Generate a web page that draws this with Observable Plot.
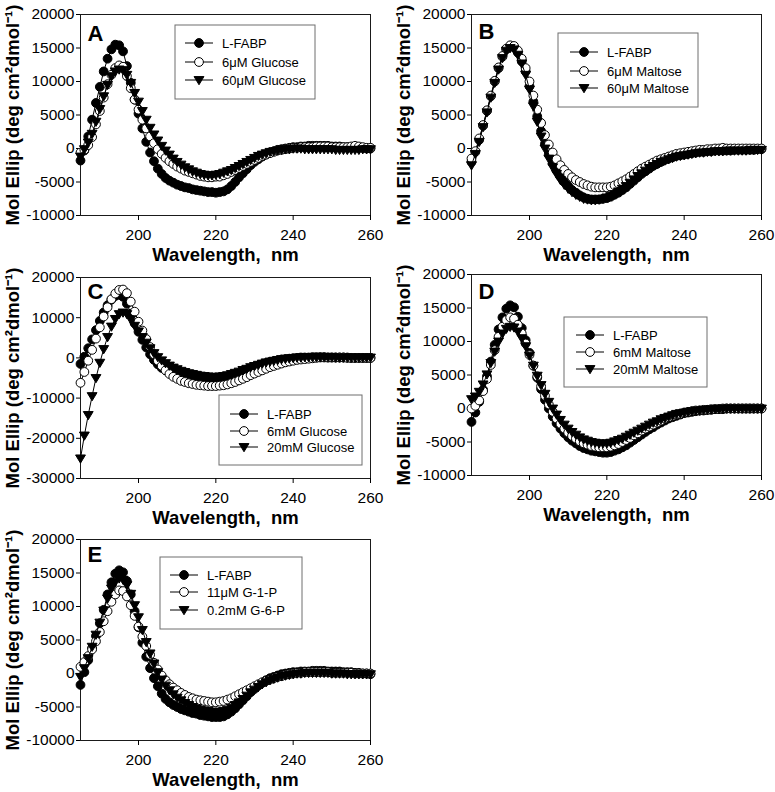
<!DOCTYPE html>
<html><head><meta charset="utf-8">
<script src="https://cdn.jsdelivr.net/npm/d3@7"></script>
<script src="https://cdn.jsdelivr.net/npm/@observablehq/plot@0.6"></script>
<style>
body{margin:0;background:#fff;}
#chart{position:relative;width:775px;height:792px;font-family:"Liberation Sans",Arial,sans-serif;}
#chart svg{position:absolute;overflow:visible;}
</style></head><body><div id="chart"></div>
<script>
// ---- data ----
const wavelength = [185,186,187,188,189,190,191,192,193,194,195,196,197,198,199,200,201,202,203,204,205,206,207,208,209,210,211,212,213,214,215,216,217,218,219,220,221,222,223,224,225,226,227,228,229,230,231,232,233,234,235,236,237,238,239,240,241,242,243,244,245,246,247,248,249,250,251,252,253,254,255,256,257,258,259,260];
const xTicks = [200, 220, 240, 260];
const yTicksMain = [-10000, -5000, 0, 5000, 10000, 15000, 20000];
const yTicksC = [-30000, -20000, -10000, 0, 10000, 20000];
const yLabel = "Mol Ellip (deg cm\u00b2dmol\u207b\u00b9)";
const xLabel = "Wavelength,  nm";
const panelIds = ["A", "B", "C", "D", "E"];

const labelsA = ["L-FABP", "6\u03bcM Glucose", "60\u03bcM Glucose"];
const labelsB = ["L-FABP", "6\u03bcM Maltose", "60\u03bcM Maltose"];
const labelsC = ["L-FABP", "6mM Glucose", "20mM Glucose"];
const labelsD = ["L-FABP", "6mM Maltose", "20mM Maltose"];
const labelsE = ["L-FABP", "11\u03bcM G-1-P", "0.2mM G-6-P"];

const A_LFABP = [-1800,-300,1800,4300,6800,9200,11500,13400,14800,15500,
 15400,14500,12300,9800,7300,5200,3000,1000,-600,-1900,
 -3000,-3800,-4400,-4800,-5100,-5400,-5600,-5800,-5900,-6100,
 -6200,-6300,-6400,-6500,-6500,-6600,-6500,-6400,-6100,-5600,
 -5000,-4300,-3700,-3100,-2500,-2000,-1600,-1200,-900,-600,
 -400,-200,-100,0,100,200,200,300,300,400,
 400,400,400,400,400,300,300,300,200,200,
 200,200,100,100,0,0];
const A_6uM = [-600,-200,500,1700,3600,5600,7600,9600,11000,12000,
 12400,12200,10800,9000,7300,5800,4300,3000,1800,800,
 -100,-800,-1400,-1900,-2300,-2700,-3000,-3300,-3500,-3700,
 -3900,-4100,-4200,-4300,-4300,-4200,-4200,-4000,-3800,-3500,
 -3200,-2900,-2600,-2300,-2000,-1700,-1400,-1100,-900,-700,
 -500,-300,-200,-100,0,100,100,200,200,200,
 200,300,300,300,300,200,200,200,200,200,
 300,400,300,200,100,100];
const A_60uM = [-1200,-100,900,2200,4000,5900,7800,9500,10800,11500,
 11800,11700,11000,9800,8300,7000,5600,4300,3100,2100,
 1200,400,-300,-900,-1500,-2000,-2400,-2800,-3100,-3400,
 -3600,-3800,-3900,-4000,-4000,-3900,-3800,-3600,-3400,-3200,
 -2900,-2600,-2300,-2000,-1700,-1400,-1100,-900,-700,-500,
 -400,-300,-200,-100,-100,0,0,0,-100,-100,
 -100,-100,-100,-100,-100,-100,-200,-200,-200,-200,
 -200,-200,-200,-100,-100,-100];

const B_LFABP = [-2000,-500,1300,3400,5600,7800,10000,12000,13700,14800,
 15300,15100,14300,13000,11500,9300,7000,4800,2600,700,
 -900,-2200,-3300,-4200,-5000,-5600,-6200,-6600,-7000,-7300,
 -7500,-7600,-7600,-7600,-7500,-7400,-7200,-6900,-6600,-6200,
 -5800,-5300,-4800,-4300,-3800,-3400,-3000,-2600,-2300,-2000,
 -1700,-1500,-1300,-1100,-1000,-900,-800,-700,-600,-500,
 -500,-400,-400,-300,-300,-300,-300,-300,-200,-200,
 -200,-200,-200,-200,-100,-100];
const B_6uM = [-1500,-400,1500,3500,5700,7900,10100,12100,13800,14900,
 15400,15300,14600,13400,12000,10000,7900,5800,3800,2000,
 600,-600,-1600,-2500,-3200,-3800,-4300,-4700,-5000,-5300,
 -5500,-5700,-5800,-5800,-5800,-5800,-5700,-5500,-5200,-4900,
 -4600,-4200,-3800,-3400,-3000,-2700,-2400,-2100,-1800,-1600,
 -1400,-1200,-1000,-800,-700,-600,-500,-400,-300,-200,
 -200,-100,-100,0,0,100,0,0,0,0,
 0,0,0,0,0,0];
const B_60uM = [-2500,-800,1000,3200,5400,7600,9800,11800,13500,14600,
 15000,14800,14000,12700,11000,8800,6300,4000,1800,0,
 -1500,-2800,-3800,-4700,-5400,-6000,-6500,-6900,-7200,-7500,
 -7600,-7700,-7700,-7600,-7500,-7300,-7100,-6800,-6400,-6000,
 -5600,-5100,-4600,-4100,-3700,-3300,-2900,-2600,-2300,-2000,
 -1800,-1600,-1400,-1200,-1100,-1000,-900,-800,-700,-600,
 -600,-500,-500,-400,-400,-400,-300,-300,-300,-300,
 -300,-300,-200,-200,-200,-200];

const C_LFABP = [-1500,300,2400,4600,6900,9200,11300,13100,14500,15400,
 15700,15200,13500,11000,8600,6500,4500,2600,900,-500,
 -1600,-2500,-3100,-3600,-4000,-4300,-4600,-4800,-5000,-5100,
 -5200,-5300,-5400,-5400,-5400,-5300,-5200,-5000,-4800,-4500,
 -4200,-3800,-3400,-3000,-2600,-2200,-1900,-1600,-1300,-1000,
 -800,-600,-400,-300,-200,-100,0,100,100,100,
 200,200,200,200,100,100,100,100,100,100,
 0,0,0,0,0,0];
const C_6mM = [-6200,-3500,-700,2000,4800,7600,10300,12600,14600,16000,
 16900,17000,16100,14000,11500,9000,6800,4700,2700,900,
 -700,-2000,-3100,-4000,-4700,-5200,-5700,-6000,-6300,-6500,
 -6700,-6800,-6900,-7000,-7000,-7000,-6900,-6800,-6600,-6300,
 -6000,-5600,-5200,-4800,-4300,-3900,-3500,-3100,-2700,-2300,
 -2000,-1700,-1400,-1100,-900,-700,-500,-400,-300,-200,
 -100,0,100,100,100,100,100,100,100,0,
 0,0,0,0,0,0];
const C_20mM = [-25000,-19300,-14200,-9500,-5000,-1200,2200,5200,7800,9700,
 10900,11300,10900,9600,8000,6600,5200,3800,2400,1200,
 200,-600,-1300,-1900,-2400,-2800,-3200,-3500,-3800,-4000,
 -4200,-4400,-4500,-4600,-4700,-4700,-4600,-4500,-4300,-4000,
 -3700,-3400,-3000,-2700,-2300,-2000,-1700,-1400,-1100,-900,
 -700,-500,-300,-200,-100,0,100,100,200,200,
 200,200,200,200,200,200,100,100,100,100,
 100,100,100,100,100,100];

const D_LFABP = [-2000,-600,1000,2800,4800,7000,9500,11800,13600,14900,
 15400,15100,13700,12000,10200,8300,6400,4600,2900,1300,
 0,-1200,-2200,-3000,-3700,-4300,-4800,-5200,-5600,-5900,
 -6100,-6300,-6400,-6500,-6600,-6600,-6500,-6300,-6100,-5800,
 -5500,-5100,-4700,-4300,-3900,-3500,-3100,-2800,-2400,-2100,
 -1800,-1500,-1300,-1100,-900,-700,-600,-500,-400,-300,
 -300,-200,-200,-100,-100,-100,0,0,0,0,
 0,0,0,0,0,0];
const D_6mM = [0,400,1200,2600,4400,6500,8700,10700,12200,13200,
 13600,13400,12500,11200,9700,8000,6400,4800,3300,1900,
 600,-500,-1500,-2300,-3000,-3600,-4100,-4500,-4900,-5200,
 -5400,-5600,-5700,-5800,-5800,-5800,-5700,-5500,-5300,-5000,
 -4700,-4400,-4000,-3700,-3300,-3000,-2700,-2400,-2100,-1800,
 -1500,-1300,-1100,-900,-800,-600,-500,-400,-300,-300,
 -200,-200,-100,-100,-100,0,0,0,0,0,
 0,0,0,0,0,0];
const D_20mM = [1400,1800,2500,3600,5100,6800,8500,10000,11200,11900,
 12200,12100,11500,10500,9300,7900,6400,4900,3500,2200,
 1000,0,-900,-1700,-2400,-3000,-3500,-3900,-4300,-4600,
 -4800,-5000,-5100,-5200,-5200,-5200,-5100,-4900,-4700,-4500,
 -4200,-3900,-3600,-3300,-3000,-2700,-2400,-2100,-1900,-1600,
 -1400,-1200,-1000,-800,-700,-600,-500,-400,-300,-300,
 -200,-200,-100,-100,-100,0,0,0,0,0,
 0,0,0,0,0,0];

const E_LFABP = [-1700,200,2000,3800,5600,7500,9500,11800,13600,14900,
 15400,15100,13800,11800,9300,6900,4600,2500,800,-700,
 -1900,-3000,-3800,-4300,-4700,-5000,-5300,-5500,-5700,-5900,
 -6000,-6200,-6300,-6400,-6500,-6500,-6500,-6400,-6100,-5700,
 -5200,-4600,-4000,-3400,-2800,-2300,-1800,-1400,-1000,-700,
 -500,-300,-100,0,100,200,200,300,300,300,
 400,400,400,400,300,300,300,300,200,200,
 200,100,100,0,0,-100];
const E_G1P = [1000,1700,2600,3600,4800,6200,7800,9300,10700,11800,
 12400,12300,11500,10200,8600,7000,5500,4100,2800,1600,
 600,-300,-1000,-1600,-2100,-2500,-2900,-3200,-3500,-3700,
 -3900,-4000,-4100,-4200,-4300,-4300,-4200,-4100,-3900,-3700,
 -3400,-3100,-2800,-2500,-2200,-1900,-1600,-1300,-1100,-900,
 -700,-500,-400,-200,-100,0,100,100,200,200,
 200,200,200,200,200,100,100,100,100,100,
 100,0,0,0,0,0];
const E_G6P = [-500,800,2300,4000,5800,7600,9400,11200,12700,13700,
 14200,14000,13200,11900,10200,8400,6500,4700,3000,1500,
 200,-900,-1800,-2500,-3100,-3600,-4000,-4400,-4700,-5000,
 -5200,-5400,-5500,-5600,-5700,-5700,-5700,-5600,-5400,-5100,
 -4700,-4300,-3800,-3300,-2800,-2400,-2000,-1600,-1300,-1000,
 -800,-600,-400,-300,-200,-100,0,0,100,100,
 100,100,100,100,100,0,0,0,0,-100,
 -100,-100,-100,-100,-100,-100];

// ---- layout (pixels) ----
const layout = [
  {left:0,   top:0,   letterDy:11, box:[175,25,140,74],  rows:[18,37,55], lineX:10},
  {left:391, top:0,   letterDy:9,  box:[167,33,140,74],  rows:[19,38,55], lineX:12},
  {left:0,   top:263, letterDy:6,  box:[219,132,143,70], rows:[19,36,52], lineX:11},
  {left:391, top:260, letterDy:9,  box:[173,57,143,70],  rows:[18,35,52], lineX:12},
  {left:0,   top:525, letterDy:7,  box:[160,32,142,72],  rows:[18,35,53], lineX:10}
];
const seriesSets = [
  [A_LFABP, A_6uM, A_60uM], [B_LFABP, B_6uM, B_60uM], [C_LFABP, C_6mM, C_20mM],
  [D_LFABP, D_6mM, D_20mM], [E_LFABP, E_G1P, E_G6P]
];
const labelSets = [labelsA, labelsB, labelsC, labelsD, labelsE];
const yDomains = [[-10000,20000],[-10000,20000],[-30000,20000],[-10000,20000],[-10000,20000]];
const yTickSets = [yTicksMain, yTicksMain, yTicksC, yTicksMain, yTicksMain];

const triDown = {
  draw(ctx, size) {
    const r = Math.sqrt(size / Math.PI);
    ctx.moveTo(-r * 1.12, -r * 0.78);
    ctx.lineTo(r * 1.12, -r * 0.78);
    ctx.lineTo(0, r * 1.08);
    ctx.closePath();
  }
};
const styles = [
  {fill: "black", symbol: "circle"},
  {fill: "white", symbol: "circle"},
  {fill: "black", symbol: triDown}
];
const R = 4.4;
const chart = document.getElementById("chart");
const fmt = d => String(d);

panelIds.forEach((id, pi) => {
  const L = layout[pi];
  const marks = [
    Plot.frame({stroke: "#1a1a1a", strokeWidth: 1}),
    Plot.axisX({ticks: xTicks, tickSize: 5, tickPadding: 8, label: null, tickFormat: fmt}),
    Plot.axisY({ticks: yTickSets[pi], tickSize: 4, tickPadding: 2, label: null, tickFormat: fmt})
  ];
  seriesSets[pi].forEach((arr, si) => {
    const data = wavelength.map((w, i) => ({w, v: arr[i]}));
    marks.push(Plot.line(data, {x: "w", y: "v", stroke: "black", strokeWidth: 1}));
    marks.push(Plot.dot(data, {x: "w", y: "v", r: R, fill: styles[si].fill, stroke: "black", strokeWidth: 1, symbol: styles[si].symbol}));
  });
  marks.push(Plot.text([yLabel], {text: d => d, frameAnchor: "left", dx: -67, rotate: -90, textAnchor: "middle", lineAnchor: "middle", fontSize: 18.5, fontWeight: "bold"}));
  marks.push(Plot.text([xLabel], {text: d => d, frameAnchor: "bottom", dy: 40, textAnchor: "middle", lineAnchor: "middle", fontSize: 18.5, fontWeight: "bold"}));
  marks.push(Plot.text([id], {text: d => d, frameAnchor: "top-left", dx: 7, dy: L.letterDy, textAnchor: "start", lineAnchor: "top", fontSize: 22, fontWeight: "bold"}));

  const svg = Plot.plot({
    width: 384, height: 265, marginLeft: 80, marginRight: 14, marginTop: 14, marginBottom: 50,
    style: {background: "transparent", fontFamily: "'Liberation Sans', Arial, sans-serif", fontSize: "15.5px", color: "#000", overflow: "visible"},
    x: {domain: [185, 260]},
    y: {domain: yDomains[pi]},
    marks
  });
  svg.style.left = L.left + "px";
  svg.style.top = L.top + "px";
  chart.appendChild(svg);

  // legend
  const [bx, by, bw, bh] = L.box;
  const g = d3.select(svg).append("g").attr("transform", `translate(${bx},${by})`);
  g.append("rect").attr("width", bw).attr("height", bh).attr("fill", "white").attr("stroke", "#6e6e6e").attr("stroke-width", 1);
  labelSets[pi].forEach((lab, si) => {
    const ry = L.rows[si];
    g.append("line").attr("x1", L.lineX).attr("x2", L.lineX + 28).attr("y1", ry).attr("y2", ry).attr("stroke", "black");
    g.append("path").attr("transform", `translate(${L.lineX + 14},${ry})`)
      .attr("d", d3.symbol(styles[si].symbol === "circle" ? d3.symbolCircle : triDown, Math.PI * R * R)())
      .attr("fill", styles[si].fill).attr("stroke", "black");
    g.append("text").attr("x", L.lineX + 37).attr("y", ry).attr("dy", "0.35em")
      .attr("text-anchor", "start").attr("font-size", 13).attr("fill", "black").text(lab);
  });
});
</script></body></html>
